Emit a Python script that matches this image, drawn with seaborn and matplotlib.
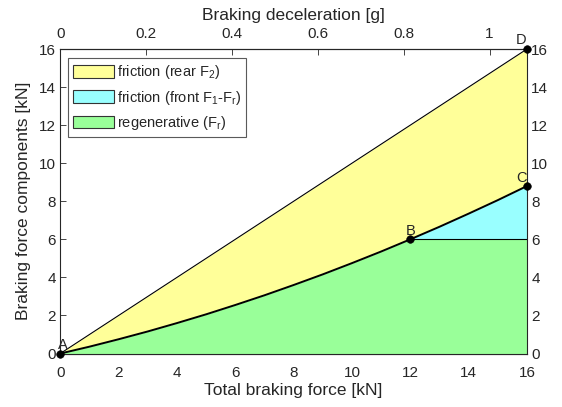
import numpy as np
import pandas as pd
import matplotlib
matplotlib.use("Agg")
import matplotlib.pyplot as plt
import seaborn as sns
from matplotlib.patches import Patch

# Braking force data [kN]
total_force = [0, 1, 2, 3, 4, 5, 6, 7, 8, 9, 10, 11, 12, 13, 14, 15, 16]
front_force = [0, 0.36, 0.75, 1.16, 1.60, 2.06, 2.55, 3.06, 3.60, 4.16,
               4.75, 5.36, 6.00, 6.66, 7.35, 8.06, 8.80]
regen_force = [0, 0.36, 0.75, 1.16, 1.60, 2.06, 2.55, 3.06, 3.60, 4.16,
               4.75, 5.36, 6.00, 6.00, 6.00, 6.00, 6.00]

# Operating points
point_names = ["A", "B", "C", "D"]
point_x = [0, 12, 16, 16]
point_y = [0, 6.00, 8.80, 16]

# Vehicle weight force [kN] for the deceleration scale (m = 1500 kg)
weight_kN = 1.5 * 9.81
g_ticks = [0, 0.2, 0.4, 0.6, 0.8, 1]
kn_ticks = [0, 2, 4, 6, 8, 10, 12, 14, 16]

legend_labels = ["friction (rear F$_2$)",
                 r"friction (front F$_1$-F$_\mathrm{r}$)",
                 r"regenerative (F$_\mathrm{r}$)"]

c_yellow = "#ffff99"
c_cyan = "#99ffff"
c_green = "#99ff99"
axis_col = "#262626"

sns.set_theme(style="white")
plt.rcParams["font.family"] = ["Liberation Sans", "DejaVu Sans"]
plt.rcParams["mathtext.fontset"] = "custom"
plt.rcParams["mathtext.rm"] = "Liberation Sans"
plt.rcParams["mathtext.it"] = "Liberation Sans:italic"
plt.rcParams["mathtext.default"] = "regular"

df = pd.DataFrame({"total": total_force, "front": front_force, "regen": regen_force})

fig = plt.figure(figsize=(5.62, 4.07), dpi=100)
ax = fig.add_axes([0.1073, 0.1314, 0.8304, 0.7482])

t = np.array(total_force, dtype=float)
f1 = np.array(front_force, dtype=float)
fr = np.array(regen_force, dtype=float)

# Filled regions
ax.fill_between(t, f1, t, color=c_yellow, lw=0)
ax.fill_between(t, fr, f1, where=t >= 12, color=c_cyan, lw=0)
ax.fill_between(t, 0, fr, color=c_green, lw=0)

# Boundary lines
sns.lineplot(data=df, x="total", y="total", ax=ax, color="black", lw=0.8)
sns.lineplot(data=df, x="total", y="front", ax=ax, color="black", lw=1.4)
sns.lineplot(data=df[df["total"] >= 12], x="total", y="regen", ax=ax,
             color="black", lw=0.8)

# Operating points with labels
pts = pd.DataFrame({"x": point_x, "y": point_y})
sns.scatterplot(data=pts, x="x", y="y", ax=ax, color="black", s=30,
                edgecolor="black", zorder=5, clip_on=False)
offsets = {"A": (2, 6), "B": (0, 6), "C": (-4, 6), "D": (-4, 6.5)}
for n, x, y in zip(point_names, point_x, point_y):
    ax.annotate(n, (x, y), xytext=offsets[n], textcoords="offset points",
                ha="center", va="center", fontsize=10.5, color=axis_col,
                annotation_clip=False)

ax.set_xlim(0, 16)
ax.set_ylim(0, 16)
ax.set_xticks(kn_ticks)
ax.set_yticks(kn_ticks)
ax.set_xlabel("Total braking force [kN]", fontsize=12.5, color=axis_col, labelpad=2)
ax.set_ylabel("Braking force components [kN]", fontsize=12.5, color=axis_col, labelpad=6)
ax.tick_params(axis="x", direction="in", length=4, width=0.6, colors=axis_col,
               labelsize=11, bottom=True, top=False, pad=9)
ax.tick_params(axis="y", direction="in", length=4, width=0.6, colors=axis_col,
               labelsize=11, left=True, right=True, labelleft=True,
               labelright=True, pad=3)
for s in ax.spines.values():
    s.set_color(axis_col)
    s.set_linewidth(0.8)
    s.set_visible(True)

# Deceleration scale on top (ticks mirrored at the bottom)
to_g = lambda f: np.asarray(f) / weight_kN
to_kn = lambda g: np.asarray(g) * weight_kN
sec = ax.secondary_xaxis("top", functions=(to_g, to_kn))
sec.set_xticks(g_ticks)
sec.set_xticklabels(["0", "0.2", "0.4", "0.6", "0.8", "1"])
sec.tick_params(direction="in", length=4, width=0.6, colors=axis_col,
                labelsize=11, pad=6)
sec.spines["top"].set_color(axis_col)
sec.spines["top"].set_linewidth(0.8)
sec.set_xlabel("Braking deceleration [g]", fontsize=12.5, color=axis_col, labelpad=5)

sec_b = ax.secondary_xaxis("bottom", functions=(to_g, to_kn))
sec_b.set_xticks(g_ticks)
sec_b.set_xticklabels([])
sec_b.tick_params(direction="in", length=4, width=0.6, colors=axis_col)
sec_b.spines["bottom"].set_color(axis_col)
sec_b.spines["bottom"].set_linewidth(0.8)

# Legend
handles = [Patch(facecolor=c_yellow, edgecolor="#333333", lw=0.8),
           Patch(facecolor=c_cyan, edgecolor="#333333", lw=0.8),
           Patch(facecolor=c_green, edgecolor="#333333", lw=0.8)]
leg = ax.legend(handles, legend_labels, loc="upper left",
                bbox_to_anchor=(0.017, 0.97), fontsize=10.5, frameon=True,
                fancybox=False, edgecolor="#5a5a5a", framealpha=1,
                handlelength=2.8, handleheight=0.95, labelspacing=0.5,
                handletextpad=0.2, borderpad=0.35, borderaxespad=0)
leg.get_frame().set_linewidth(0.8)
for txt in leg.get_texts():
    txt.set_color(axis_col)

fig.savefig("out.png", dpi=100)
